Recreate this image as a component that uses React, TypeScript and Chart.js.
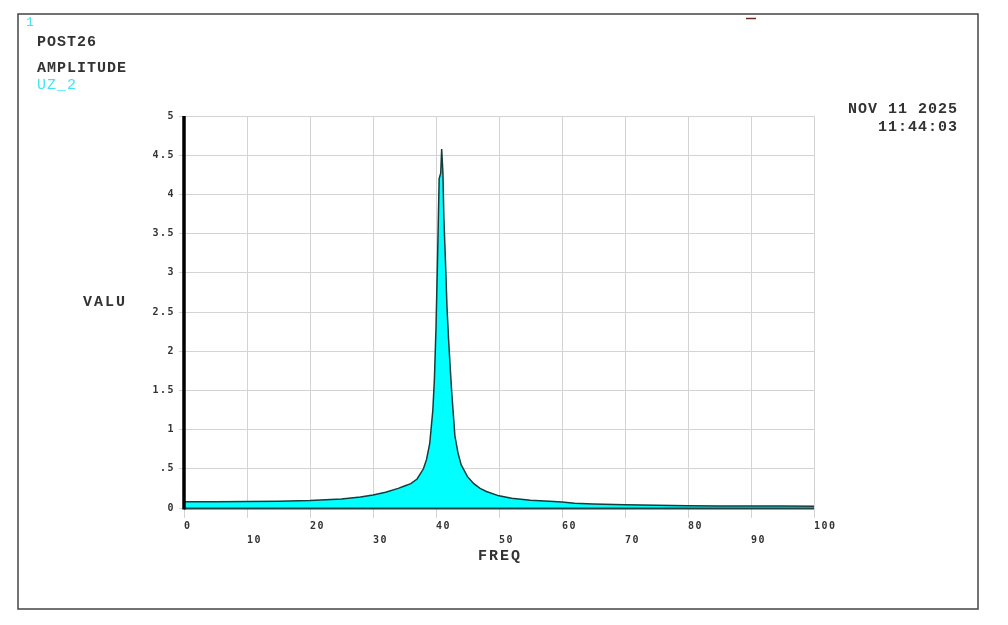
import React, { useEffect, useRef } from 'react';
import { Chart, registerables } from 'chart.js';

Chart.register(...registerables);

// ---- data ----
const freq = [
  0, 5, 10, 15, 20, 25, 28, 30, 32, 34, 35, 36, 37, 38, 38.5, 39, 39.5, 39.75, 40, 40.25,
  40.5, 40.75, 40.9, 41.1, 41.25, 41.5, 41.75, 42, 42.25, 42.5, 43, 43.5, 44, 45, 46, 47, 48,
  50, 52, 55, 58, 60, 62, 65, 70, 75, 80, 85, 90, 95, 100,
];
const uz2 = [
  0.08, 0.08, 0.082, 0.087, 0.095, 0.115, 0.14, 0.165, 0.2, 0.25, 0.28, 0.31, 0.37, 0.5, 0.62,
  0.82, 1.25, 1.65, 2.3, 3.2, 4.2, 4.27, 4.58, 4.27, 3.7, 3.15, 2.55, 2.15, 1.8, 1.47, 0.92,
  0.7, 0.55, 0.4, 0.31, 0.25, 0.21, 0.155, 0.125, 0.1, 0.085, 0.075, 0.06, 0.05, 0.04, 0.035,
  0.028, 0.026, 0.025, 0.024, 0.023,
];
const xTicks = [0, 10, 20, 30, 40, 50, 60, 70, 80, 90, 100];
const yTicks = [0, 0.5, 1, 1.5, 2, 2.5, 3, 3.5, 4, 4.5, 5];
const yTickLabels = ['0', '.5', '1', '1.5', '2', '2.5', '3', '3.5', '4', '4.5', '5'];
const windowNo = '1';
const headerLines = ['POST26', 'AMPLITUDE'];
const seriesName = 'UZ_2';
const dateLines = ['NOV 11 2025', '11:44:03'];
const xTitle = 'FREQ';
const yTitle = 'VALU';

const TEXT = '#333333';
const CYAN = '#3fe6ef';
const MONO = '"Liberation Mono", "DejaVu Sans Mono", monospace';

const overlayPlugin = {
  id: 'overlay',
  beforeDraw(chart: any) {
    const ctx = chart.ctx;
    ctx.save();
    ctx.fillStyle = '#ffffff';
    ctx.fillRect(0, 0, chart.width, chart.height);
    ctx.restore();
    ctx.letterSpacing = '1.5px';
  },
  afterDatasetsDraw(chart: any) {
    const { ctx, chartArea } = chart;
    const { left, right, top, bottom } = chartArea;
    ctx.save();
    ctx.strokeStyle = '#1b4747';
    ctx.lineWidth = 2;
    ctx.beginPath();
    ctx.moveTo(left, bottom + 0.5);
    ctx.lineTo(right, bottom + 0.5);
    ctx.stroke();
    ctx.strokeStyle = '#000000';
    ctx.lineWidth = 3.5;
    ctx.beginPath();
    ctx.moveTo(left, top);
    ctx.lineTo(left, bottom + 1.5);
    ctx.stroke();
    ctx.restore();
  },
  afterDraw(chart: any) {
    const ctx = chart.ctx;
    const { left, right } = chart.chartArea;
    ctx.save();
    // frame
    ctx.strokeStyle = '#444444';
    ctx.lineWidth = 1.5;
    ctx.strokeRect(18, 14, 960, 595);
    // small mark near the top
    ctx.strokeStyle = '#6b2a2a';
    ctx.lineWidth = 1.5;
    ctx.beginPath();
    ctx.moveTo(746, 18.5);
    ctx.lineTo(756, 18.5);
    ctx.stroke();

    ctx.textBaseline = 'middle';
    ctx.textAlign = 'left';
    ctx.letterSpacing = '1px';
    ctx.fillStyle = CYAN;
    ctx.font = `13px ${MONO}`;
    ctx.fillText(windowNo, 26, 23);

    ctx.letterSpacing = '1px';
    ctx.font = `bold 15px ${MONO}`;
    ctx.fillStyle = TEXT;
    ctx.fillText(headerLines[0], 37, 42);
    ctx.fillText(headerLines[1], 37, 68);
    ctx.fillStyle = CYAN;
    ctx.font = `15px ${MONO}`;
    ctx.fillText(seriesName, 37, 85);

    ctx.fillStyle = TEXT;
    ctx.font = `bold 15px ${MONO}`;
    ctx.textAlign = 'right';
    ctx.fillText(dateLines[0], 958, 109);
    ctx.fillText(dateLines[1], 958, 127);

    ctx.letterSpacing = '2px';
    ctx.font = `bold 15px ${MONO}`;
    ctx.textAlign = 'center';
    ctx.fillText(yTitle, 105, 302);
    ctx.fillText(xTitle, (left + right) / 2 + 1, 556);
    ctx.restore();
  },
};

export default function App() {
  const canvasRef = useRef<HTMLCanvasElement | null>(null);

  useEffect(() => {
    const canvas = canvasRef.current;
    if (!canvas) return;
    const points = freq.map((f, i) => ({ x: f, y: uz2[i] }));
    const chart = new Chart(canvas, {
      type: 'line',
      data: {
        datasets: [
          {
            label: seriesName,
            data: points,
            borderColor: '#163c3c',
            borderWidth: 1.5,
            backgroundColor: '#00ffff',
            fill: 'origin',
            pointRadius: 0,
            tension: 0,
          },
        ],
      },
      options: {
        animation: false,
        responsive: true,
        maintainAspectRatio: false,
        layout: { padding: { left: 0, top: 116, right: 194, bottom: 0 } },
        plugins: {
          legend: { display: false },
          tooltip: { enabled: false },
          title: { display: false },
        },
        scales: {
          x: {
            type: 'linear',
            min: 0,
            max: 100,
            afterFit: (s: any) => {
              s.height = 117;
            },
            afterBuildTicks: (s: any) => {
              s.ticks = xTicks.map((v) => ({ value: v }));
            },
            ticks: {
              autoSkip: false,
              maxRotation: 0,
              minRotation: 0,
              align: 'start',
              padding: 1,
              color: TEXT,
              font: { family: 'DejaVu Sans Mono', size: 10, weight: 'bold', lineHeight: 1.45 },
              callback: (v: any, i: number) =>
                i % 2 === 0 ? [String(v), ''] : ['', String(v)],
            },
            grid: {
              color: '#d3d3d3',
              lineWidth: 1,
              drawTicks: true,
              tickLength: 10,
            },
            border: { display: false },
          },
          y: {
            type: 'linear',
            min: 0,
            max: 5,
            afterFit: (s: any) => {
              s.width = 184;
            },
            afterBuildTicks: (s: any) => {
              s.ticks = yTicks.map((v) => ({ value: v }));
            },
            ticks: {
              autoSkip: false,
              padding: 4,
              color: TEXT,
              font: { family: 'DejaVu Sans Mono', size: 10, weight: 'bold' },
              callback: (v: any, i: number) => yTickLabels[i],
            },
            grid: {
              color: '#d3d3d3',
              lineWidth: 1,
              drawTicks: true,
              tickLength: 5,
            },
            border: { display: false },
          },
        },
      },
      plugins: [overlayPlugin],
    });
    return () => chart.destroy();
  }, []);

  return (
    <div style={{ position: 'fixed', left: 0, top: 0, width: 1008, height: 625, background: '#fff' }}>
      <canvas ref={canvasRef} />
    </div>
  );
}
